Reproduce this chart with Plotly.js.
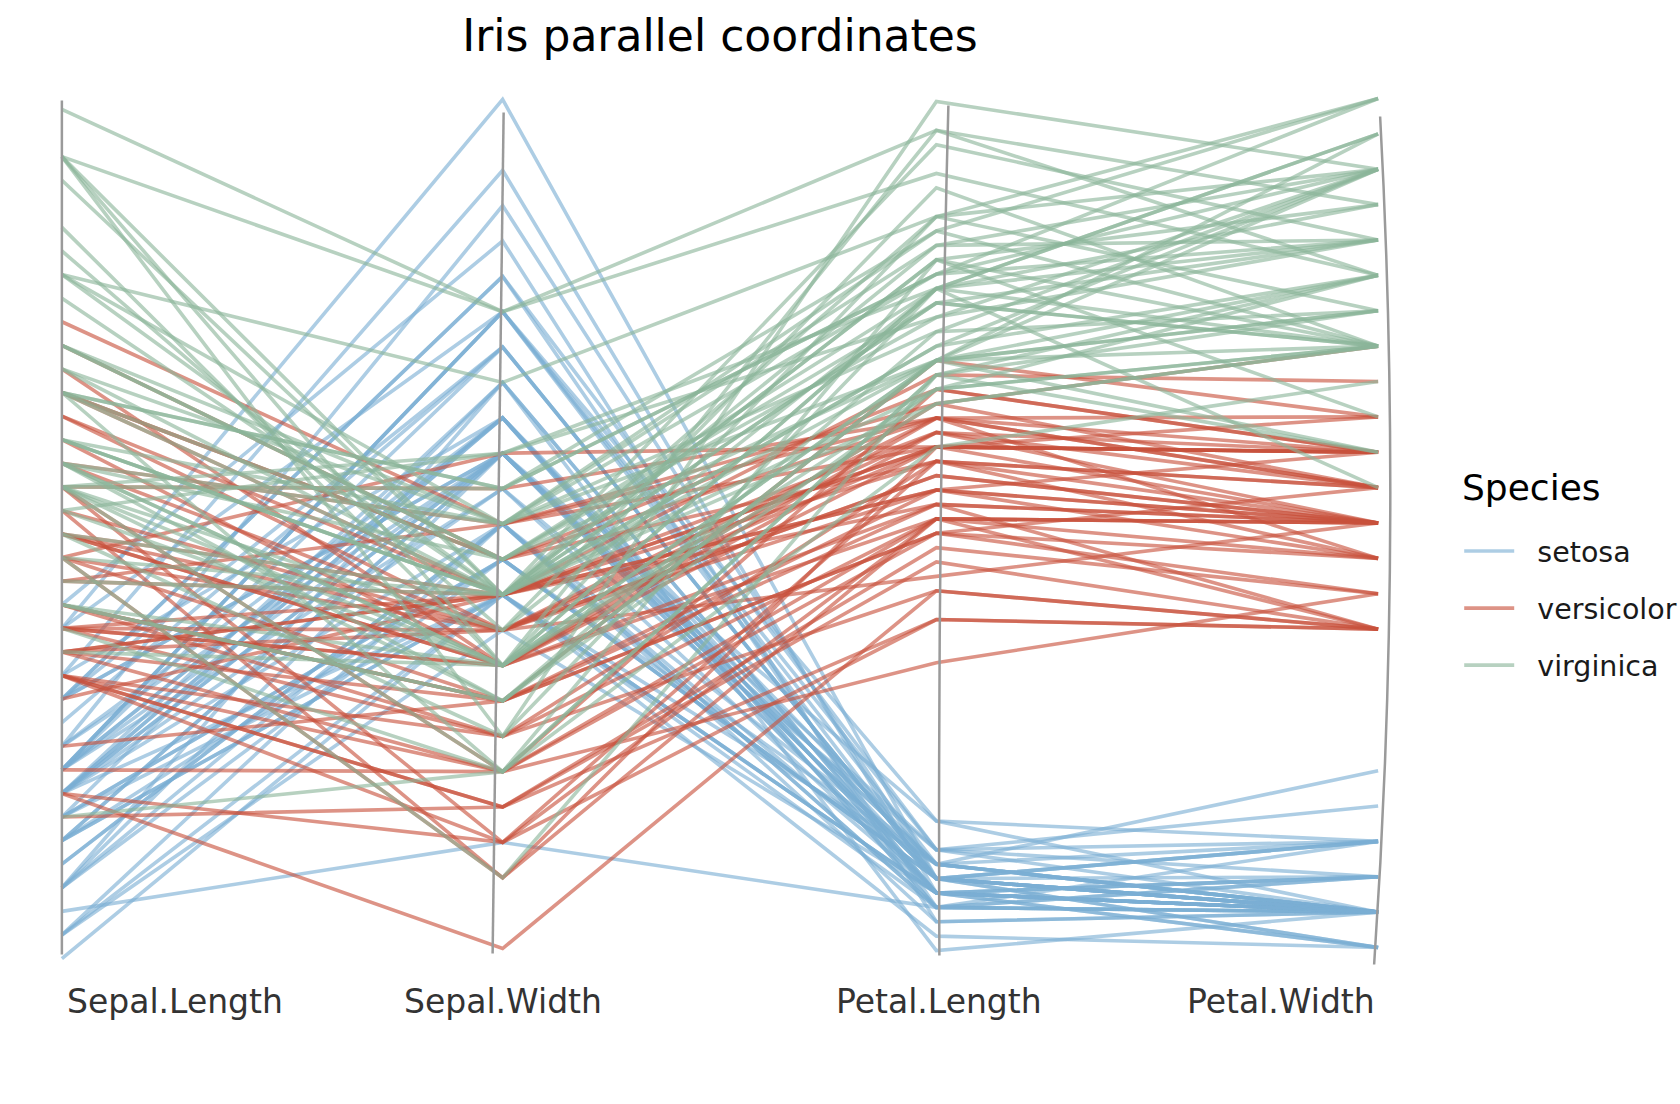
<!DOCTYPE html>
<html>
<head>
<meta charset="utf-8">
<script src="https://cdn.plot.ly/plotly-3.0.1.min.js"></script>
<style>html,body{margin:0;padding:0;background:#fff;}#chart{width:1680px;height:1104px;}</style>
</head>
<body>
<div id="chart"></div>
<script>
// ---- data (iris) ----
const dimensions = ["Sepal.Length", "Sepal.Width", "Petal.Length", "Petal.Width"];
const speciesNames = ["setosa", "versicolor", "virginica"];
const speciesColors = ["123,175,212", "200,80,60", "138,181,154"];

const sepalLength = [
5.1,4.9,4.7,4.6,5.0,5.4,4.6,5.0,4.4,4.9,5.4,4.8,4.8,4.3,5.8,5.7,5.4,5.1,5.7,5.1,5.4,5.1,4.6,5.1,4.8,5.0,5.0,5.2,5.2,4.7,4.8,5.4,5.2,5.5,4.9,5.0,5.5,4.9,4.4,5.1,5.0,4.5,4.4,5.0,5.1,4.8,5.1,4.6,5.3,5.0,
7.0,6.4,6.9,5.5,6.5,5.7,6.3,4.9,6.6,5.2,5.0,5.9,6.0,6.1,5.6,6.7,5.6,5.8,6.2,5.6,5.9,6.1,6.3,6.1,6.4,6.6,6.8,6.7,6.0,5.7,5.5,5.5,5.8,6.0,5.4,6.0,6.7,6.3,5.6,5.5,5.5,6.1,5.8,5.0,5.6,5.7,5.7,6.2,5.1,5.7,
6.3,5.8,7.1,6.3,6.5,7.6,4.9,7.3,6.7,7.2,6.5,6.4,6.8,5.7,5.8,6.4,6.5,7.7,7.7,6.0,6.9,5.6,7.7,6.3,6.7,7.2,6.2,6.1,6.4,7.2,7.4,7.9,6.4,6.3,6.1,7.7,6.3,6.4,6.0,6.9,6.7,6.9,5.8,6.8,6.7,6.7,6.3,6.5,6.2,5.9];
const sepalWidth = [
3.5,3.0,3.2,3.1,3.6,3.9,3.4,3.4,2.9,3.1,3.7,3.4,3.0,3.0,4.0,4.4,3.9,3.5,3.8,3.8,3.4,3.7,3.6,3.3,3.4,3.0,3.4,3.5,3.4,3.2,3.1,3.4,4.1,4.2,3.1,3.2,3.5,3.6,3.0,3.4,3.5,2.3,3.2,3.5,3.8,3.0,3.8,3.2,3.7,3.3,
3.2,3.2,3.1,2.3,2.8,2.8,3.3,2.4,2.9,2.7,2.0,3.0,2.2,2.9,2.9,3.1,3.0,2.7,2.2,2.5,3.2,2.8,2.5,2.8,2.9,3.0,2.8,3.0,2.9,2.6,2.4,2.4,2.7,2.7,3.0,3.4,3.1,2.3,3.0,2.5,2.6,3.0,2.6,2.3,2.7,3.0,2.9,2.9,2.5,2.8,
3.3,2.7,3.0,2.9,3.0,3.0,2.5,2.9,2.5,3.6,3.2,2.7,3.0,2.5,2.8,3.2,3.0,3.8,2.6,2.2,3.2,2.8,2.8,2.7,3.3,3.2,2.8,3.0,2.8,3.0,2.8,3.8,2.8,2.8,2.6,3.0,3.4,3.1,3.0,3.1,3.1,3.1,2.7,3.2,3.3,3.0,2.5,3.0,3.4,3.0];
const petalLength = [
1.4,1.4,1.3,1.5,1.4,1.7,1.4,1.5,1.4,1.5,1.5,1.6,1.4,1.1,1.2,1.5,1.3,1.4,1.7,1.5,1.7,1.5,1.0,1.7,1.9,1.6,1.6,1.5,1.4,1.6,1.6,1.5,1.5,1.4,1.5,1.2,1.3,1.4,1.3,1.5,1.3,1.3,1.3,1.6,1.9,1.4,1.6,1.4,1.5,1.4,
4.7,4.5,4.9,4.0,4.6,4.5,4.7,3.3,4.6,3.9,3.5,4.2,4.0,4.7,3.6,4.4,4.5,4.1,4.5,3.9,4.8,4.0,4.9,4.7,4.3,4.4,4.8,5.0,4.5,3.5,3.8,3.7,3.9,5.1,4.5,4.5,4.7,4.4,4.1,4.0,4.4,4.6,4.0,3.3,4.2,4.2,4.2,4.3,3.0,4.1,
6.0,5.1,5.9,5.6,5.8,6.6,4.5,6.3,5.8,6.1,5.1,5.3,5.5,5.0,5.1,5.3,5.5,6.7,6.9,5.0,5.7,4.9,6.7,4.9,5.7,6.0,4.8,4.9,5.6,5.8,6.1,6.4,5.6,5.1,5.6,6.1,5.6,5.5,4.8,5.4,5.6,5.1,5.1,5.9,5.7,5.2,5.0,5.2,5.4,5.1];
const petalWidth = [
0.2,0.2,0.2,0.2,0.2,0.4,0.3,0.2,0.2,0.1,0.2,0.2,0.1,0.1,0.2,0.4,0.4,0.3,0.3,0.3,0.2,0.4,0.2,0.5,0.2,0.2,0.4,0.2,0.2,0.2,0.2,0.4,0.1,0.2,0.2,0.2,0.2,0.1,0.2,0.2,0.3,0.3,0.2,0.6,0.4,0.3,0.2,0.2,0.2,0.2,
1.4,1.5,1.5,1.3,1.5,1.3,1.6,1.0,1.3,1.4,1.0,1.5,1.0,1.4,1.3,1.4,1.5,1.0,1.5,1.1,1.8,1.3,1.5,1.2,1.3,1.4,1.4,1.7,1.5,1.0,1.1,1.0,1.2,1.6,1.5,1.6,1.5,1.3,1.3,1.3,1.2,1.4,1.2,1.0,1.3,1.2,1.3,1.3,1.1,1.3,
2.5,1.9,2.1,1.8,2.2,2.1,1.7,1.8,1.8,2.5,2.0,1.9,2.1,2.0,2.4,2.3,1.8,2.2,2.3,1.5,2.3,2.0,2.0,1.8,2.1,1.8,1.8,1.8,2.1,1.6,1.9,2.0,2.2,1.5,1.4,2.3,2.4,1.8,1.8,2.1,2.4,2.3,1.9,2.3,2.5,2.3,1.9,2.0,2.3,1.8];
const species = [
0,0,0,0,0,0,0,0,0,0,0,0,0,0,0,0,0,0,0,0,0,0,0,0,0,0,0,0,0,0,0,0,0,0,0,0,0,0,0,0,0,0,0,0,0,0,0,0,0,0,
1,1,1,1,1,1,1,1,1,1,1,1,1,1,1,1,1,1,1,1,1,1,1,1,1,1,1,1,1,1,1,1,1,1,1,1,1,1,1,1,1,1,1,1,1,1,1,1,1,1,
2,2,2,2,2,2,2,2,2,2,2,2,2,2,2,2,2,2,2,2,2,2,2,2,2,2,2,2,2,2,2,2,2,2,2,2,2,2,2,2,2,2,2,2,2,2,2,2,2,2];

// ---- layout geometry ----
const M = {l: 18, r: 258, t: 76, b: 128};
const X0 = 0.9, X1 = 4.1, Y0 = -0.03, Y1 = 1.03;
const pw = 1680 - M.l - M.r, ph = 1104 - M.t - M.b;
const dxPx = px => px * (X1 - X0) / pw;      // pixel offset -> x units
const dyPx = px => px * (Y1 - Y0) / ph;      // pixel offset -> y units

// hand-drawn look: small per-axis pixel nudges (dx right, dy down)
const axisNudge = [[0, 8], [2, -2], [-3, 0], [0, -3]];

// ---- scaling (uniminmax per dimension) ----
const columns = [sepalLength, sepalWidth, petalLength, petalWidth];
const scaled = columns.map(col => {
  const mn = Math.min(...col), mx = Math.max(...col);
  return col.map(v => (v - mn) / (mx - mn));
});
const xPos = dimensions.map((d, i) => i + 1);
const xDraw = xPos.map((x, i) => x + dxPx(axisNudge[i][0]));

const traces = [];
const shown = {};
for (let r = 0; r < species.length; r++) {
  const s = species[r];
  traces.push({
    type: 'scatter', mode: 'lines',
    x: xDraw,
    y: scaled.map((c, i) => c[r] - dyPx(axisNudge[i][1])),
    line: {color: 'rgba(' + speciesColors[s] + ',0.62)', width: 3.6},
    name: '\u00a0\u00a0' + speciesNames[s],
    legendgroup: speciesNames[s],
    showlegend: !shown[s],
    hoverinfo: 'skip'
  });
  shown[s] = true;
}

// sketchy axis lines: pixel offsets [dx,dy] of top, bend and bottom relative to the axis (dy positive = down)
const axisSketch = [
  {top: [0, -1], bend: [0, 0], bot: [0, 4]},
  {top: [3, 11], bend: [-2, 0], bot: [-8, 3]},
  {top: [9, 4], bend: [-2, 0], bot: [0, 5]},
  {top: [2, 15], bend: [25, 0], bot: [-4, 14]}
];
const shapes = axisSketch.map((a, i) => {
  const xc = xPos[i];
  const x0 = xc + dxPx(a.top[0]), y0 = 1 - dyPx(a.top[1]);
  const x2 = xc + dxPx(a.bot[0]), y2 = 0 - dyPx(a.bot[1]);
  const x1 = xc + dxPx(a.bend[0]), y1 = (y0 + y2) / 2;
  return {
    type: 'path', xref: 'x', yref: 'y', layer: 'above',
    path: `M${x0},${y0} Q${x1},${y1} ${x2},${y2}`,
    line: {color: '#9a9a9a', width: 2.5}
  };
});

const anchors = ['left', 'center', 'center', 'right'];
const shifts = [3, 2, 0, -1];
const annotations = dimensions.map((d, i) => ({
  text: d, x: xPos[i], xref: 'x', y: -0.028, yref: 'paper',
  xanchor: anchors[i], yanchor: 'middle', xshift: shifts[i], showarrow: false,
  font: {family: 'DejaVu Sans', size: 33, color: '#333333'}
}));
// legend title
annotations.push({
  text: 'Species', xref: 'paper', x: (1460 - M.l) / pw, yref: 'paper', y: (1104 - M.b - 487) / ph,
  xanchor: 'left', yanchor: 'middle', showarrow: false,
  font: {family: 'DejaVu Sans', size: 36, color: '#000'}
});

const layout = {
  width: 1680, height: 1104,
  margin: {l: M.l, r: M.r, t: M.t, b: M.b, pad: 0, autoexpand: false},
  paper_bgcolor: '#fff', plot_bgcolor: '#fff',
  font: {family: 'DejaVu Sans', color: '#000'},
  title: {
    text: 'Iris parallel coordinates',
    font: {family: 'DejaVu Sans', size: 44, color: '#000'},
    x: 0.5, xref: 'paper', xanchor: 'center',
    y: 1 - 36 / 1104, yref: 'container', yanchor: 'middle'
  },
  xaxis: {range: [X0, X1], showgrid: false, zeroline: false, showticklabels: false, ticks: '', showline: false, fixedrange: true},
  yaxis: {range: [Y0, Y1], showgrid: false, zeroline: false, showticklabels: false, ticks: '', showline: false, fixedrange: true},
  showlegend: true,
  legend: {
    font: {family: 'DejaVu Sans', size: 28.5, color: '#1a1a1a'},
    x: 1.0265, xanchor: 'left', y: 0.5, yanchor: 'top',
    tracegroupgap: 17, itemwidth: 50, bgcolor: 'rgba(0,0,0,0)'
  },
  shapes: shapes,
  annotations: annotations
};

Plotly.newPlot('chart', traces, layout, {displayModeBar: false, staticPlot: true});
</script>
</body>
</html>
